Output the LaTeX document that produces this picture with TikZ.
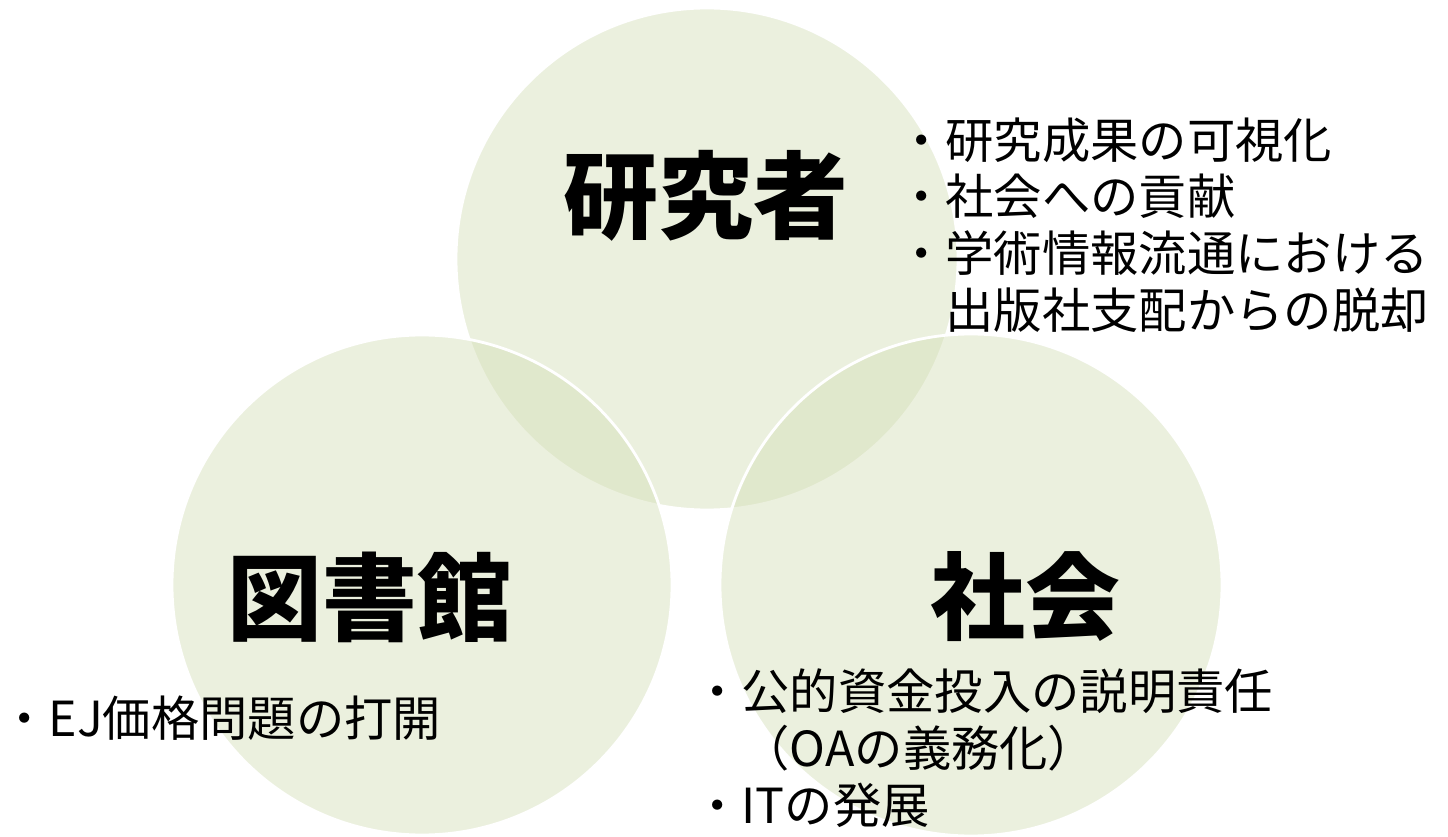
\documentclass[tikz,border=0pt]{standalone}
\usepackage{fontspec}
\newfontfamily\jpfont{Noto Sans CJK JP}
\definecolor{leaf}{RGB}{211,222,182}

\begin{document}
\begin{tikzpicture}[x=0.02cm,y=0.02cm,
  ring/.style={fill=leaf,fill opacity=0.45,draw=white,line width=1.6pt},
  title/.style={font=\jpfont\bfseries\fontsize{54}{60}\selectfont,inner sep=0pt},
  note/.style={font=\jpfont\fontsize{27.5}{32.3}\selectfont,align=left,anchor=west,inner sep=0pt}]
\useasboundingbox (0,0) rectangle (1448,836);

% the three circles
\draw[ring] (707,577) circle (251);
\draw[ring] (422,251) circle (250);
\draw[ring] (971,251) circle (251);

\node[title] (res) at (706,640) {研究者};
\node[title] (lib) at (370,239) {図書館};
\node[title] (soc) at (1025,239) {社会};

\node[note] (resnote) at (897,611) {・研究成果の可視化\\・社会への貢献\\・学術情報流通における\\　出版社支配からの脱却};
\node[note] (libnote) at (0,118) {・EJ価格問題の打開};
\node[note] (socnote) at (693,88) {・公的資金投入の説明責任\\　（OAの義務化）\\・ITの発展};
\end{tikzpicture}
\end{document}
